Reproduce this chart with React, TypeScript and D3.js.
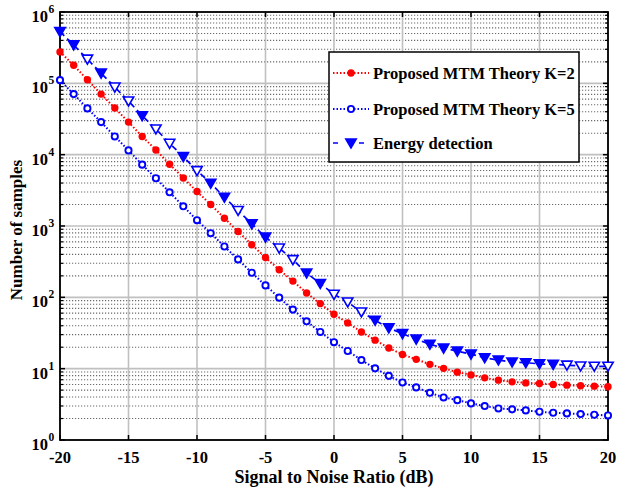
import React from "react";
import * as d3 from "d3";

// SNR sweep in dB
const snrDb = [
  -20, -19, -18, -17, -16, -15, -14, -13, -12, -11, -10, -9, -8, -7, -6, -5, -4, -3, -2, -1,
  0, 1, 2, 3, 4, 5, 6, 7, 8, 9, 10, 11, 12, 13, 14, 15, 16, 17, 18, 19, 20,
];

// Required number of samples for each detector
const mtmK2 = [
  276000, 179500, 112000, 70600, 45000, 28600, 18000, 11640, 7330, 4720, 3040, 2000, 1285, 838,
  546, 362, 244, 169, 115, 81.7, 57.8, 43.8, 32.7, 25.1, 19.5, 15.8, 13.5, 11.5, 10.1, 8.93, 8.18,
  7.43, 6.9, 6.53, 6.32, 6.21, 6.01, 5.87, 5.75, 5.69, 5.57,
];
const mtmK5 = [
  110900, 70600, 44500, 28600, 18000, 11480, 7240, 4670, 2970, 1890, 1205, 793, 516, 340, 221, 147,
  99, 67.3, 46.1, 32.7, 23.5, 17.7, 13.2, 10.1, 7.93, 6.41, 5.46, 4.59, 3.95, 3.62, 3.26, 2.99,
  2.77, 2.69, 2.6, 2.49, 2.41, 2.36, 2.31, 2.26, 2.21,
];
const energyDetection = [
  530000, 345000, 218000, 139000, 88500, 56400, 35100, 22900, 14400, 9380, 5970, 3970, 2530, 1650,
  1070, 697, 490, 337, 219, 156, 110, 85.9, 62.2, 47.6, 37.2, 31.0, 25.9, 22.0, 19.4, 17.6, 16.0,
  14.2, 13.2, 12.4, 12.1, 11.7, 11.5, 11.2, 10.9, 10.8, 10.8,
];

// Energy-detection markers rendered as open triangles
const openTriangleSnr = [-18, -16, -15, -13, -12, -10, -7, -4, -3, 0, 1, 2, 17, 18, 19, 20];

const xTicks = [-20, -15, -10, -5, 0, 5, 10, 15, 20];
const yExponents = [0, 1, 2, 3, 4, 5, 6];

const legendLabels = [
  "Proposed MTM Theory K=2",
  "Proposed MTM Theory K=5",
  "Energy detection",
];

const xLabel = "Signal to Noise Ratio (dB)";
const yLabel = "Number of samples";

const W = 617;
const H = 488;
const left = 60;
const right = 608;
const top = 12;
const bottom = 440;
const FONT = "'Liberation Serif', 'Times New Roman', serif";

const RED = "#ff0000";
const BLUE = "#0000ff";

function trianglePath(cx: number, cy: number, s = 5.2) {
  return `M${cx - s},${cy - s * 0.78}L${cx + s},${cy - s * 0.78}L${cx},${cy + s * 0.95}Z`;
}

export default function App() {
  const x = d3.scaleLinear().domain([-20, 20]).range([left, right]);
  const y = d3.scaleLog().domain([1, 1e6]).range([bottom, top]);

  const line = (vals: number[]) =>
    d3
      .line<number>()
      .x((_, i) => x(snrDb[i]))
      .y((v) => y(v))(vals) || "";

  // minor log positions (2..9 times each decade)
  const minorVals: number[] = [];
  for (let e = 0; e < 6; e++) {
    for (let m = 2; m <= 9; m++) minorVals.push(m * Math.pow(10, e));
  }

  const legendX = 329;
  const legendY = 52;
  const legendW = 250;
  const legendH = 110;
  const rowY = [73, 109, 143];

  return (
    <svg
      width={W}
      height={H}
      style={{ position: "absolute", left: 0, top: 0, background: "#fff" }}
      fontFamily={FONT}
    >
      <rect x={0} y={0} width={W} height={H} fill="#fff" />

      {/* minor horizontal grid */}
      {minorVals.map((v) => (
        <line
          key={`mg${v}`}
          x1={left}
          x2={right}
          y1={y(v)}
          y2={y(v)}
          stroke="#6a6a6a"
          strokeWidth={1.1}
          strokeDasharray="1.2,1.8"
        />
      ))}
      {/* major grid */}
      {yExponents.map((e) => (
        <line
          key={`gy${e}`}
          x1={left}
          x2={right}
          y1={y(Math.pow(10, e))}
          y2={y(Math.pow(10, e))}
          stroke="#c0c0c0"
          strokeWidth={1.6}
        />
      ))}
      {xTicks.map((t) => (
        <line
          key={`gx${t}`}
          x1={x(t)}
          x2={x(t)}
          y1={top}
          y2={bottom}
          stroke="#c0c0c0"
          strokeWidth={1.6}
        />
      ))}

      {/* ticks */}
      {xTicks.map((t) => (
        <g key={`tx${t}`} stroke="#000" strokeWidth={1.5}>
          <line x1={x(t)} x2={x(t)} y1={bottom} y2={bottom - 5} />
          <line x1={x(t)} x2={x(t)} y1={top} y2={top + 5} />
        </g>
      ))}
      {yExponents.map((e) => (
        <g key={`ty${e}`} stroke="#000" strokeWidth={1.5}>
          <line x1={left} x2={left + 5} y1={y(Math.pow(10, e))} y2={y(Math.pow(10, e))} />
          <line x1={right} x2={right - 5} y1={y(Math.pow(10, e))} y2={y(Math.pow(10, e))} />
        </g>
      ))}
      {minorVals.map((v) => (
        <g key={`tm${v}`} stroke="#000" strokeWidth={1.2}>
          <line x1={left} x2={left + 3} y1={y(v)} y2={y(v)} />
          <line x1={right} x2={right - 3} y1={y(v)} y2={y(v)} />
        </g>
      ))}

      {/* axes box */}
      <rect
        x={left}
        y={top}
        width={right - left}
        height={bottom - top}
        fill="none"
        stroke="#000"
        strokeWidth={1.8}
      />

      {/* x tick labels */}
      {xTicks.map((t) => (
        <text
          key={`lx${t}`}
          x={x(t)}
          y={463}
          textAnchor="middle"
          fontSize={16.5}
          fontWeight="bold"
        >
          {t}
        </text>
      ))}
      {/* y tick labels */}
      {yExponents.map((e) => (
        <g key={`ly${e}`}>
          <text
            x={48}
            y={y(Math.pow(10, e)) + 10}
            textAnchor="end"
            fontSize={16.5}
            fontWeight="bold"
          >
            10
          </text>
          <text x={48.5} y={y(Math.pow(10, e)) + 1} fontSize={11.5} fontWeight="bold">
            {e}
          </text>
        </g>
      ))}

      {/* axis titles */}
      <text
        x={(left + right) / 2}
        y={483}
        textAnchor="middle"
        fontSize={18}
        fontWeight="bold"
      >
        {xLabel}
      </text>
      <text
        transform={`translate(22,${(top + bottom) / 2 + 4}) rotate(-90)`}
        textAnchor="middle"
        fontSize={17}
        fontWeight="bold"
      >
        {yLabel}
      </text>

      {/* series */}
      <path
        d={line(energyDetection)}
        fill="none"
        stroke={BLUE}
        strokeWidth={1.7}
        strokeDasharray="6,4"
      />
      <path
        d={line(mtmK2)}
        fill="none"
        stroke={RED}
        strokeWidth={2}
        strokeDasharray="1.5,2"
      />
      <path
        d={line(mtmK5)}
        fill="none"
        stroke={BLUE}
        strokeWidth={2}
        strokeDasharray="1.5,2"
      />
      {mtmK2.map((v, i) => (
        <circle key={`r${i}`} cx={x(snrDb[i])} cy={y(v)} r={3.7} fill={RED} />
      ))}
      {mtmK5.map((v, i) => (
        <circle
          key={`b${i}`}
          cx={x(snrDb[i])}
          cy={y(v)}
          r={3.1}
          fill="#fff"
          stroke={BLUE}
          strokeWidth={1.9}
        />
      ))}
      {energyDetection.map((v, i) => {
        const open = openTriangleSnr.includes(snrDb[i]);
        return (
          <path
            key={`e${i}`}
            d={trianglePath(x(snrDb[i]), y(v))}
            fill={open ? "#fff" : BLUE}
            stroke={BLUE}
            strokeWidth={1.6}
          />
        );
      })}

      {/* legend */}
      <rect
        x={legendX}
        y={legendY}
        width={legendW}
        height={legendH}
        fill="#fff"
        stroke="#000"
        strokeWidth={1.5}
      />
      <line
        x1={333}
        x2={369}
        y1={rowY[0]}
        y2={rowY[0]}
        stroke={RED}
        strokeWidth={2}
        strokeDasharray="1.5,2"
      />
      <circle cx={351} cy={rowY[0]} r={3.7} fill={RED} />
      <line
        x1={333}
        x2={369}
        y1={rowY[1]}
        y2={rowY[1]}
        stroke={BLUE}
        strokeWidth={2}
        strokeDasharray="1.5,2"
      />
      <circle cx={351} cy={rowY[1]} r={3.1} fill="#fff" stroke={BLUE} strokeWidth={1.9} />
      <line
        x1={333}
        x2={369}
        y1={rowY[2]}
        y2={rowY[2]}
        stroke={BLUE}
        strokeWidth={1.7}
        strokeDasharray="5,8"
        strokeDashoffset={0}
      />
      <rect x={343} y={rowY[2] - 6} width={16} height={12} fill="#fff" />
      <path d={trianglePath(351, rowY[2])} fill={BLUE} stroke={BLUE} strokeWidth={1.6} />
      {legendLabels.map((lab, i) => (
        <text
          key={lab}
          x={373}
          y={rowY[i] + 5.5}
          fontSize={16.5}
          fontWeight="bold"
        >
          {lab}
        </text>
      ))}
    </svg>
  );
}
